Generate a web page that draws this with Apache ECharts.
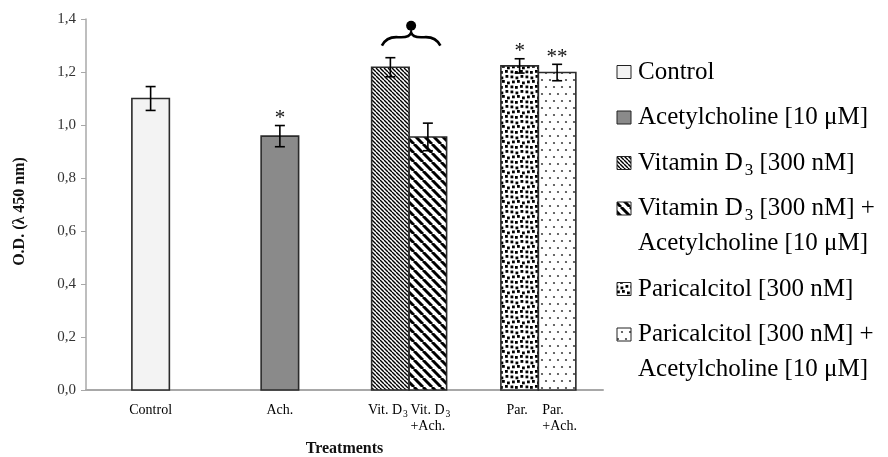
<!DOCTYPE html>
<html>
<head>
<meta charset="utf-8">
<script src="https://cdn.jsdelivr.net/npm/echarts@6/dist/echarts.min.js"></script>
<style>html,body{margin:0;padding:0;background:#fff}#c{width:888px;height:457px}</style>
</head>
<body>
<div id="c"></div>
<script>
// ---------- data ----------
const categories = ['Control', 'Ach.', 'Vit. D3', 'Par.'];          // x-axis groups
const treatments = [
  'Control',
  'Acetylcholine [10 μM]',
  'Vitamin D_3 [300 nM]',
  'Vitamin D_3 [300 nM] +\nAcetylcholine [10 μM]',
  'Paricalcitol [300 nM]',
  'Paricalcitol [300 nM] +\nAcetylcholine [10 μM]'
];
const groupIndex = [0, 1, 2, 2, 3, 3];
const means  = [1.100, 0.958, 1.218, 0.955, 1.223, 1.198];
const errors = [0.045, 0.040, 0.036, 0.052, 0.027, 0.031];
const barLabels = ['Control', 'Ach.', 'Vit. D_3', 'Vit. D_3\n+Ach.', 'Par.', 'Par.\n+Ach.'];
const signif = ['', '*', '', '', '*', '**'];
const bracedGroups = [2];
const yMin = 0, yMax = 1.4, yStep = 0.2;

// ---------- patterns ----------
function tile(w, h, draw) {
  const c = document.createElement('canvas');
  c.width = w; c.height = h;
  const ctx = c.getContext('2d');
  ctx.fillStyle = '#fff'; ctx.fillRect(0, 0, w, h);
  draw(ctx, w, h);
  return { image: c, repeat: 'repeat' };
}
function stripes(p, lw) {
  return tile(p, p, (ctx) => {
    ctx.strokeStyle = '#000'; ctx.lineWidth = lw;
    for (let k = -1; k <= 1; k++) {
      ctx.beginPath(); ctx.moveTo(k * p, 0); ctx.lineTo(k * p + p, p); ctx.stroke();
    }
  });
}
const confetti = tile(15, 15, (ctx) => {
  ctx.fillStyle = '#000';
  [[0.5,0.5],[5.5,1.5],[10.5,0],[2,5.5],[7,5],[12,6.5],[0.5,10.5],[5,11],[10,10]].forEach(p => ctx.fillRect(p[0], p[1], 2.8, 2.8));
});
const dots = tile(8, 14, (ctx) => {
  ctx.fillStyle = '#444';
  [[2,3],[6,10]].forEach(p => { ctx.beginPath(); ctx.arc(p[0], p[1], 1.1, 0, Math.PI * 2); ctx.fill(); });
});
const fills = ['#f3f3f3', '#8a8a8a', stripes(4, 1.4), stripes(9, 3), confetti, dots];

// ---------- text helpers ----------
function rich(str) {
  return str.split('\n').map(line =>
    line.split(/_(\d)/).map((p, i) => i % 2 ? '{s|' + p + '}' : (p ? '{n|' + p + '}' : '')).join('')
  ).join('\n');
}
const SERIF = '"Liberation Serif", "Times New Roman", serif';
const tickRich = {
  n: { fontFamily: SERIF, fontSize: 14, lineHeight: 16, color: '#222', align: 'left' },
  s: { fontFamily: SERIF, fontSize: 9.5, lineHeight: 6, padding: [9, 0, 0, 1], color: '#222', align: 'left' }
};
const legendRich = {
  n: { fontFamily: SERIF, fontSize: 25, lineHeight: 35, color: '#222', align: 'left' },
  s: { fontFamily: SERIF, fontSize: 17, lineHeight: 10, padding: [15, 0, 0, 2], color: '#222', align: 'left' }
};

// ---------- bar series ----------
function barRender(i) {
  return function (params, api) {
    const g = api.value(0), v = api.value(1), e = api.value(2);
    const members = groupIndex.map((gg, k) => gg === g ? k : -1).filter(k => k >= 0);
    const slot = members.indexOf(i), n = members.length;
    const band = api.size([1, 0])[0];
    const bw = band * 0.29;
    const base = api.coord([g, 0]);
    const x0 = base[0] + (slot - n / 2) * bw;
    const xc = x0 + bw / 2;
    const yTop = api.coord([g, v])[1];
    const yHi = api.coord([g, v + e])[1];
    const yLo = api.coord([g, v - e])[1];
    const cap = 5;
    const ls = { stroke: '#000', lineWidth: 1.6 };
    const labelShift = (slot - (n - 1) / 2) * 5;
    const children = [
      { type: 'rect', shape: { x: x0, y: yTop, width: bw, height: base[1] - yTop },
        style: { fill: fills[i], stroke: '#2b2b2b', lineWidth: 1.6 } },
      { type: 'line', shape: { x1: xc, y1: yHi, x2: xc, y2: yLo }, style: ls },
      { type: 'line', shape: { x1: xc - cap, y1: yHi, x2: xc + cap, y2: yHi }, style: ls },
      { type: 'line', shape: { x1: xc - cap, y1: yLo, x2: xc + cap, y2: yLo }, style: ls },
      { type: 'text', style: { text: rich(barLabels[i]), rich: tickRich, x: xc + labelShift, y: base[1] + 12,
        align: 'center', verticalAlign: 'top' } }
    ];
    if (signif[i]) {
      children.push({ type: 'text', style: { text: signif[i], x: xc, y: yHi - 7, align: 'center',
        verticalAlign: 'middle', fontFamily: SERIF, fontSize: 21, fill: '#111' } });
    }
    return { type: 'group', children };
  };
}
const series = treatments.map((name, i) => ({
  type: 'custom', name,
  data: [[groupIndex[i], means[i], errors[i]]],
  encode: { x: 0, y: 1 },
  renderItem: barRender(i)
}));

// brace annotation over grouped bars
series.push({
  type: 'custom', name: 'brace',
  data: bracedGroups.map(g => [g, 0]),
  encode: { x: 0, y: 1 },
  renderItem: function (params, api) {
    const g = api.value(0);
    const members = groupIndex.map((gg, k) => gg === g ? k : -1).filter(k => k >= 0);
    const band = api.size([1, 0])[0];
    const bw = band * 0.29;
    const xc = api.coord([g, 0])[0] + 2;
    const top = Math.min(...members.map(k => api.coord([g, means[k] + errors[k]])[1]));
    const yb = top - 12;
    const hw = bw * members.length * 0.39;
    const d = `M${xc - hw},${yb} C${xc - hw + 3},${yb - 6} ${xc - hw + 9},${yb - 9} ${xc - 13},${yb - 8.5} ` +
      `C${xc - 6},${yb - 8} ${xc - 1},${yb - 9} ${xc},${yb - 13} ` +
      `C${xc + 1},${yb - 9} ${xc + 6},${yb - 8} ${xc + 13},${yb - 8.5} ` +
      `C${xc + hw - 9},${yb - 9} ${xc + hw - 3},${yb - 6} ${xc + hw},${yb}`;
    return { type: 'group', children: [
      { type: 'path', shape: { pathData: d }, style: { fill: null, stroke: '#000', lineWidth: 2.6 } },
      { type: 'circle', shape: { cx: xc, cy: yb - 20, r: 5 }, style: { fill: '#000' } }
    ] };
  }
});

// ---------- legend (drawn) ----------
const legendEls = [];
let ly = 72;
treatments.forEach((name, i) => {
  legendEls.push({ type: 'rect', shape: { x: 617, y: ly - 6.5, width: 14, height: 13 },
    style: { fill: fills[i], stroke: '#222', lineWidth: 1 } });
  legendEls.push({ type: 'text', x: 638, y: ly - 17.5,
    style: { text: rich(name), rich: legendRich, align: 'left', verticalAlign: 'top' } });
  ly += 45.5 + (name.split('\n').length - 1) * 35;
});

const chart = echarts.init(document.getElementById('c'));
chart.setOption({
  animation: false,
  backgroundColor: '#fff',
  grid: { left: 86, right: 285, top: 19, bottom: 67, containLabel: false, outerBoundsMode: 'none' },
  xAxis: {
    type: 'category', data: categories,
    axisTick: { show: false }, axisLabel: { show: false },
    axisLine: { lineStyle: { color: '#a8a8a8', width: 2 } },
    name: 'Treatments', nameLocation: 'middle', nameGap: 51,
    nameTextStyle: { fontFamily: SERIF, fontWeight: 'bold', fontSize: 16, color: '#111' }
  },
  yAxis: {
    type: 'value', min: yMin, max: yMax, interval: yStep,
    splitLine: { show: false },
    axisLine: { show: true, lineStyle: { color: '#a8a8a8', width: 1.5 } },
    axisTick: { show: true, length: 5, lineStyle: { color: '#a8a8a8' } },
    axisLabel: { margin: 10, fontFamily: SERIF, fontSize: 15, color: '#333',
      formatter: v => v.toFixed(1).replace('.', ',') },
    name: 'O.D. (λ 450 nm)', nameLocation: 'middle', nameGap: 58, nameRotate: 90,
    nameTextStyle: { fontFamily: SERIF, fontWeight: 'bold', fontSize: 16, color: '#111', padding: [0, 14, 0, 0] }
  },
  graphic: legendEls,
  series
});
</script>
</body>
</html>
